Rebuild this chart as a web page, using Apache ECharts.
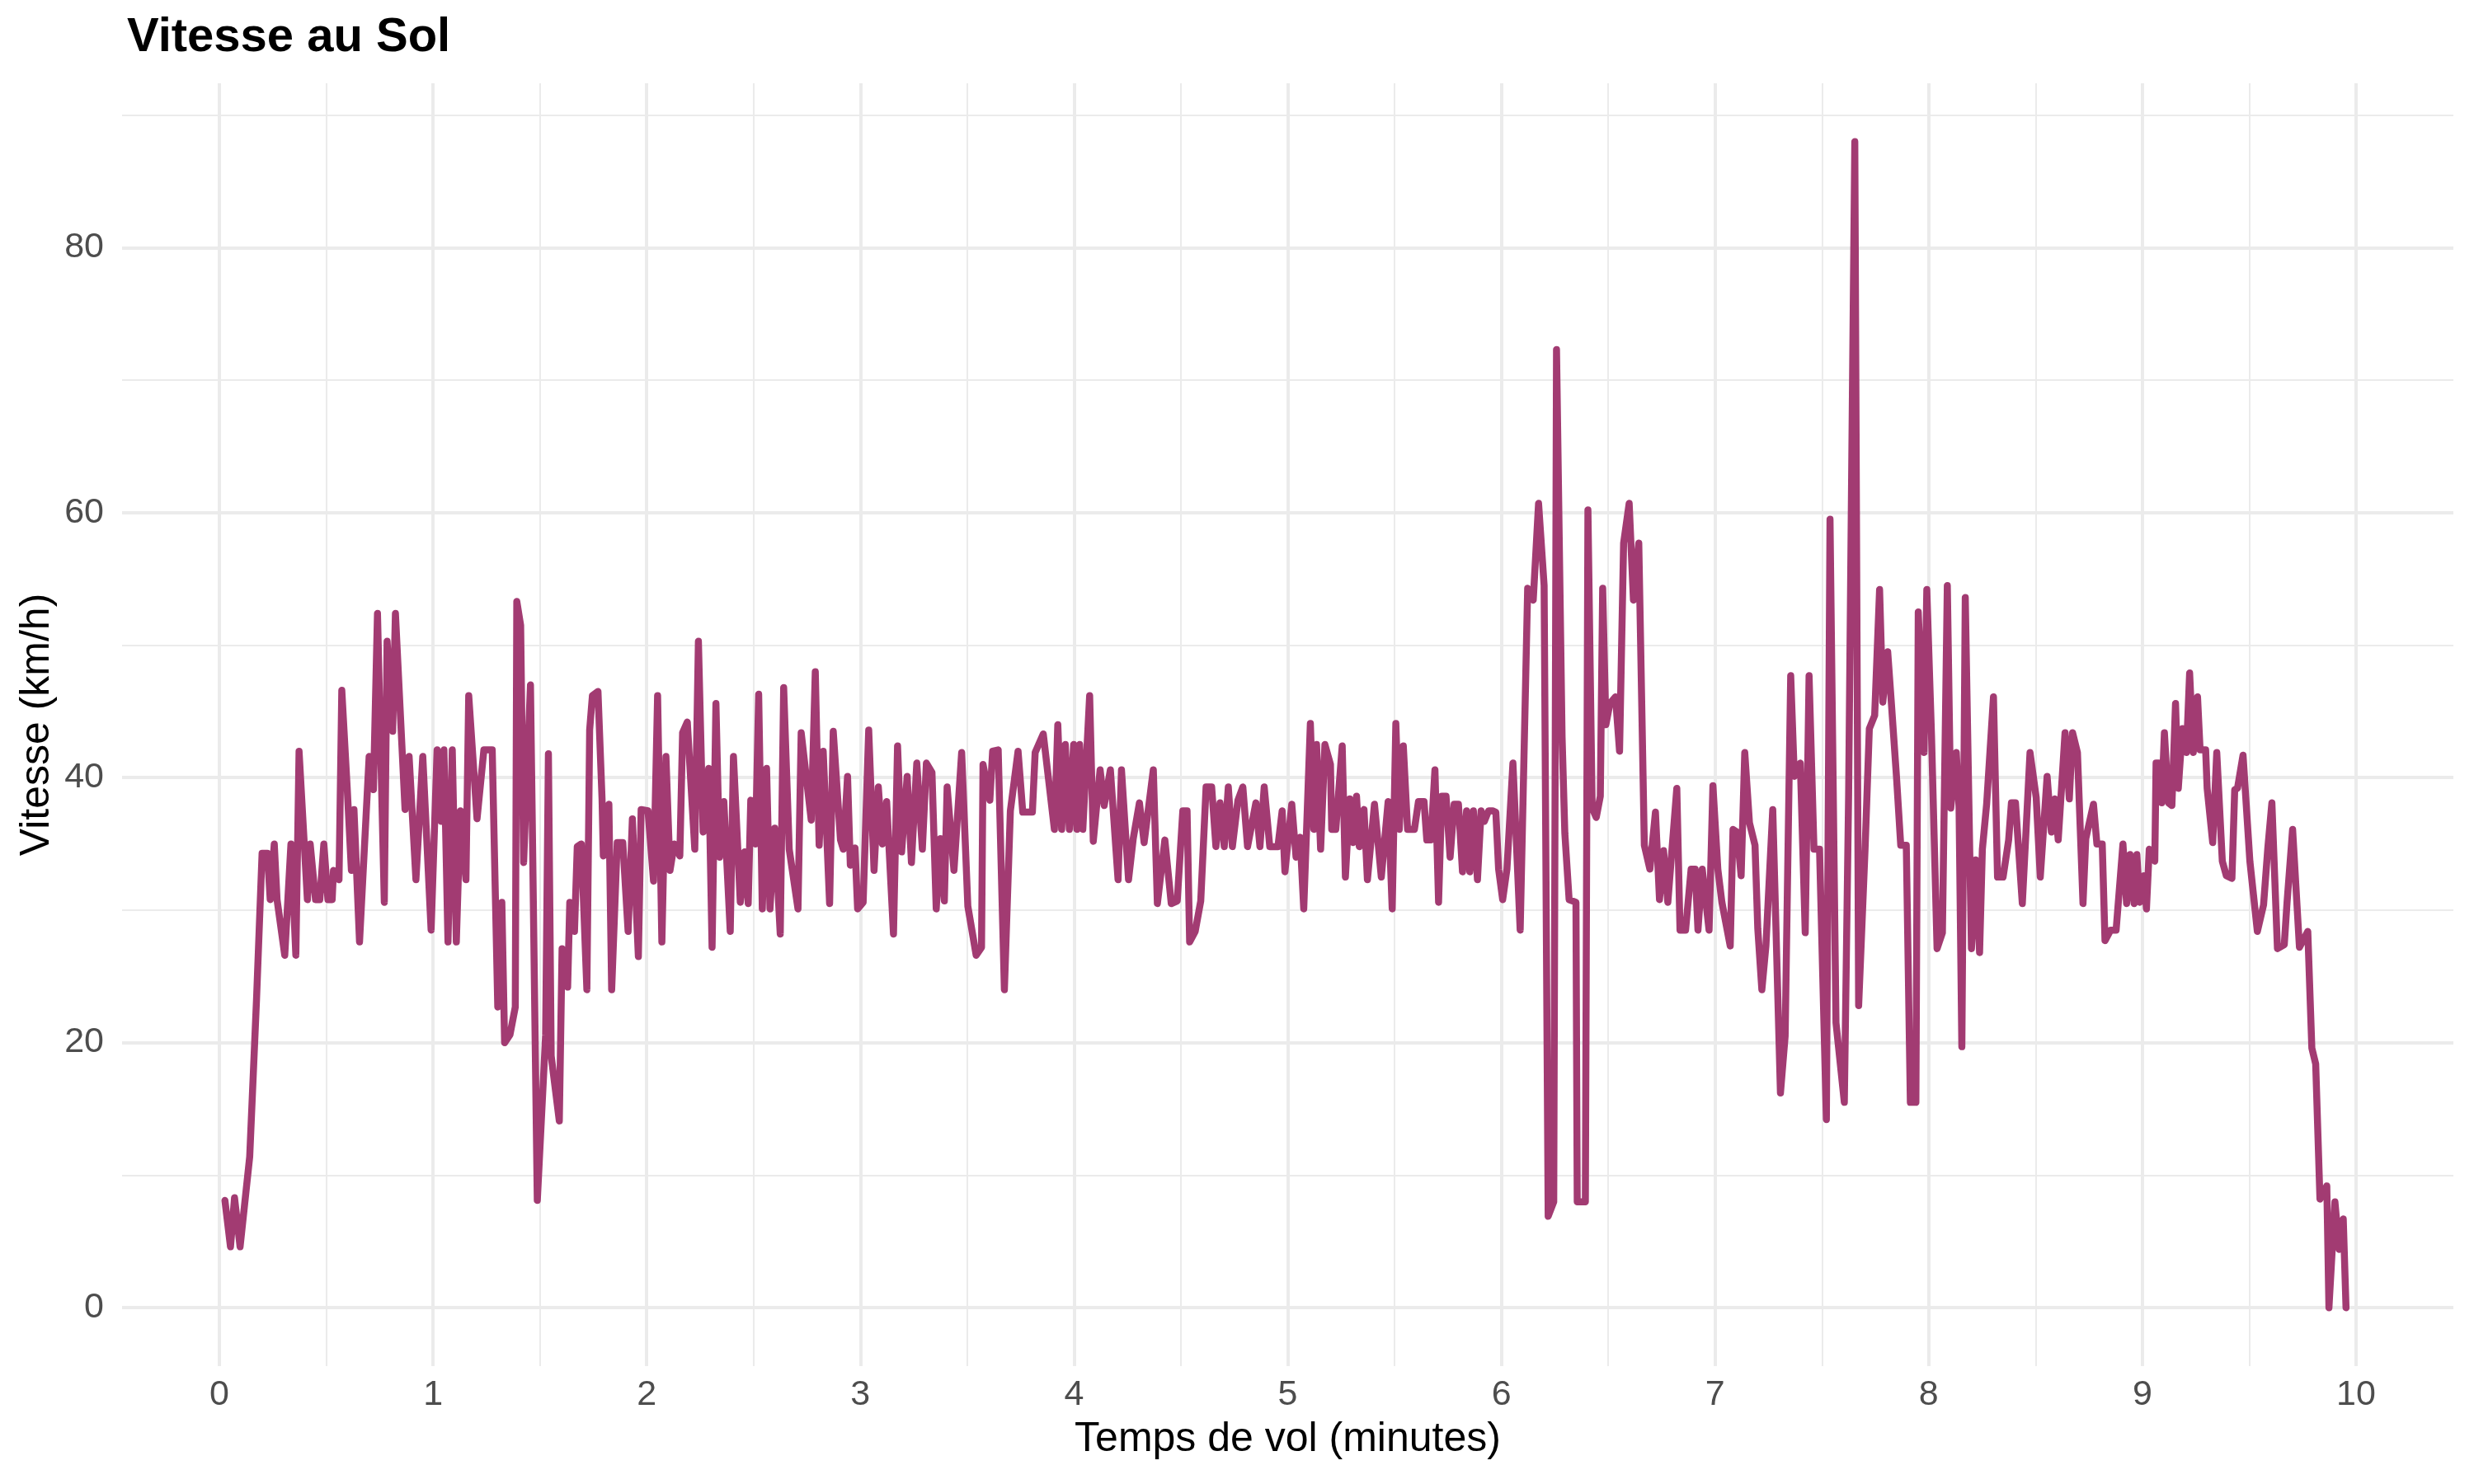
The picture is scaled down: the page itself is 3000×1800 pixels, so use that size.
<!DOCTYPE html>
<html>
<head>
<meta charset="utf-8">
<script src="https://cdn.jsdelivr.net/npm/echarts@6/dist/echarts.min.js"></script>
<style>html,body{margin:0;padding:0;background:#fff}#chart{width:3000px;height:1800px}</style>
</head>
<body>
<div id="chart"></div>
<script>
const titleText = 'Vitesse au Sol';
const xAxisTitle = 'Temps de vol (minutes)';
const yAxisTitle = 'Vitesse (km/h)';
const xTicks = [0,1,2,3,4,5,6,7,8,9,10];
const yTicks = [0,20,40,60,80];
const yMinorTicks = [10,30,50,70,90];

const times = [
0.026,0.052,0.071,0.097,0.142,0.174,0.2,0.225,0.238,0.257,0.27,0.306,0.335,0.358,0.373,0.412,0.425,0.45,0.47,0.489,0.508,0.528,0.534,0.56,0.573,0.598,0.618,0.63,0.656,0.701,0.721,0.74,0.772,0.785,0.811,0.824,0.869,0.888,0.92,0.952,0.991,
1.019,1.038,1.051,1.07,1.09,1.109,1.128,1.154,1.167,1.206,1.238,1.277,1.303,1.322,1.335,1.36,1.385,1.392,1.41,1.424,1.456,1.488,1.527,1.54,1.553,1.591,1.604,1.63,1.64,1.662,1.675,1.694,1.72,1.733,1.746,1.772,1.791,1.797,1.823,1.836,1.862,1.888,1.913,1.933,
1.961,1.974,2.006,2.032,2.051,2.071,2.09,2.109,2.129,2.155,2.168,2.19,2.225,2.242,2.264,2.29,2.306,2.324,2.341,2.361,2.391,2.406,2.438,2.458,2.475,2.487,2.509,2.524,2.541,2.561,2.577,2.599,2.625,2.641,2.667,2.708,2.723,2.77,2.789,2.807,2.826,2.856,2.873,2.907,2.92,2.94,2.953,
2.975,2.987,3.013,3.039,3.064,3.084,3.103,3.123,3.155,3.174,3.193,3.219,3.239,3.264,3.29,3.309,3.335,3.355,3.374,3.393,3.406,3.438,3.474,3.503,3.542,3.567,3.574,3.606,3.619,3.645,3.674,3.702,3.738,3.76,3.805,3.818,3.856,3.908,3.924,3.942,3.959,3.978,3.998,
4.013,4.026,4.041,4.073,4.09,4.122,4.141,4.17,4.206,4.222,4.255,4.277,4.306,4.328,4.371,4.39,4.425,4.455,4.483,4.509,4.529,4.541,4.567,4.593,4.618,4.644,4.664,4.683,4.703,4.722,4.741,4.767,4.79,4.812,4.851,4.87,4.89,4.916,4.954,
4.974,4.987,5.019,5.039,5.058,5.075,5.106,5.122,5.135,5.154,5.174,5.2,5.206,5.225,5.255,5.27,5.29,5.306,5.322,5.335,5.357,5.373,5.406,5.438,5.47,5.489,5.506,5.522,5.541,5.561,5.593,5.612,5.638,5.651,5.67,5.689,5.706,5.721,5.741,5.76,5.779,5.799,5.818,5.837,5.852,5.869,5.888,5.905,5.92,5.94,5.959,
5.974,5.987,6.006,6.026,6.054,6.088,6.123,6.149,6.174,6.2,6.219,6.245,6.258,6.284,6.297,6.317,6.349,6.355,6.393,6.405,6.425,6.444,6.463,6.474,6.489,6.508,6.534,6.553,6.572,6.598,6.618,6.643,6.669,6.695,6.721,6.74,6.759,6.779,6.798,6.821,6.836,6.862,6.888,6.907,6.92,6.94,6.972,
6.99,7.013,7.032,7.071,7.084,7.103,7.122,7.139,7.161,7.187,7.2,7.219,7.238,7.27,7.306,7.328,7.354,7.371,7.399,7.422,7.44,7.463,7.489,7.521,7.538,7.566,7.605,7.625,7.654,7.672,7.702,7.722,7.747,7.77,7.785,7.808,7.824,7.849,7.869,7.895,7.914,7.94,
7.951,7.978,7.991,8.013,8.039,8.064,8.087,8.103,8.129,8.142,8.155,8.171,8.2,8.219,8.238,8.251,8.271,8.303,8.322,8.348,8.374,8.387,8.406,8.438,8.474,8.503,8.522,8.554,8.574,8.59,8.606,8.638,8.658,8.673,8.696,8.722,8.735,8.771,8.787,8.812,8.825,8.851,8.877,8.909,8.926,8.942,8.961,
8.974,8.987,9.006,9.019,9.032,9.058,9.064,9.077,9.09,9.103,9.122,9.138,9.155,9.168,9.187,9.206,9.221,9.238,9.258,9.27,9.296,9.303,9.329,9.348,9.374,9.393,9.419,9.432,9.445,9.471,9.503,9.538,9.567,9.587,9.606,9.632,9.664,9.677,9.703,9.735,9.774,9.793,9.811,9.831,9.863,9.873,9.901,9.921,9.94,9.953
];

const speeds = [
8.1,4.6,8.3,4.6,11.4,23.3,34.3,34.3,30.8,35,30.8,26.6,35,26.6,42,30.8,35,30.8,30.8,35,30.8,30.8,33,32.3,46.6,39.3,33,37.6,27.6,41.6,39.1,52.4,30.6,50.3,43.5,52.4,37.6,41.6,32.3,41.6,28.5,
42.1,36.7,42.1,27.6,42.1,27.6,37.5,32.3,46.2,36.9,42.1,42.1,22.7,30.6,20,20.6,22.7,53.3,51.5,33.6,47,8.1,20.6,41.8,19,14.1,27.1,24.2,30.6,28.4,34.8,35,24,43.6,46.2,46.5,38.4,34.1,38,24,35.1,35.1,28.4,36.9,
26.5,37.6,37.5,32.2,46.2,27.6,41.6,33,35,34.1,43.4,44.2,34.6,50.3,35.9,40.7,27.2,45.6,34,38.2,28.4,41.6,30.6,34.4,30.5,38.3,35,46.3,30.1,40.7,30.1,36.2,28.2,46.8,34.6,30.1,43.4,36.8,48,34.9,42,30.5,43.5,35.3,34.6,40.1,33.4,
34.7,30.1,30.6,43.6,33,39.3,35,38.2,28.2,42.4,34.4,40.1,33.6,41.1,34.6,41.1,40.4,30.1,35.4,30.7,39.3,33,41.9,30.3,26.6,27.2,41,38.3,42,42.1,24,37.5,42,37.4,37.4,41.9,43.3,36.1,44,36.1,42.5,36.1,42.5,
36.1,42.5,36.1,46.2,35.2,40.6,37.9,40.6,32.3,40.6,32.3,35.4,38.1,35.1,40.6,30.5,35.3,30.5,30.7,37.5,37.5,27.6,28.4,30.7,39.3,39.3,34.8,38.1,34.8,39.3,34.8,38.3,39.3,34.8,38.1,34.8,39.3,34.8,34.8,
37.5,32.9,38,34,35.5,30.1,44.1,36.1,42.5,34.6,42.5,41,36.1,36.1,42.4,32.5,38.4,35.1,38.6,34.8,37.6,32.3,38,32.5,38.2,30.1,44.1,36.1,42.4,36.1,36.1,38.2,38.2,35.3,35.3,40.6,30.6,38.6,38.6,34,38,38,32.9,37.5,32.9,37.5,32.3,37.5,36.7,37.5,37.5,
37.4,33.1,30.8,33.1,41.1,28.5,54.3,53.4,60.7,54.5,6.9,8,72.3,43.1,35.8,30.8,30.6,8,8,60.2,37.7,37,38.6,54.3,44,45.6,46.1,42,57.7,60.7,53.4,57.7,34.9,33.1,37.4,30.8,34.5,30.6,34.5,39.2,28.5,28.5,33.1,33.1,28.5,33.1,28.5,
39.4,33.1,30.6,27.3,36.1,35.9,32.6,41.9,36.6,34.9,28.6,24,27.3,37.6,16.2,20.5,47.7,40.1,41.1,28.3,47.7,34.6,34.6,14.2,59.5,21.5,15.5,38.6,88,22.8,34.6,43.7,44.7,54.2,45.7,49.5,45.9,40.1,34.9,34.9,15.5,15.5,
52.5,41.9,54.2,43.2,27.1,28.3,54.5,37.7,41.9,37.7,19.7,53.6,27.1,33.8,26.8,34.6,38,46.1,32.5,32.5,35.3,38.1,38.1,30.5,41.9,38.5,32.5,40.1,35.9,38.4,35.3,43.4,38.4,43.4,41.9,30.5,35.4,38,35,35,27.7,28.5,28.5,35,30.5,34.2,30.5,
34.2,30.6,32.6,30.1,34.6,33.7,41.1,41.1,38.1,43.4,38.1,37.9,45.6,39.2,43.7,41.9,47.9,41.9,46.1,42.1,42.1,39.2,35.1,41.9,33.7,32.6,32.4,39.1,39.2,41.7,33.7,28.4,30.4,34.7,38.1,27.1,27.4,30.6,36.1,27.2,28.4,19.6,18.4,8.2,9.2,0,8,4.4,6.7,0
];

const FONT = "'Liberation Sans', Arial, Helvetica, sans-serif";
const GRID_COLOR = '#EBEBEB';
const LINE_COLOR = '#A23B72';

// panel geometry (pixels)
const PANEL_TOP = 101, PANEL_BOTTOM_PX = 1657, PANEL_LEFT = 148, PANEL_RIGHT_PX = 2975;
const Y0_PX = 1586, Y_PER_UNIT = 16.07;
const yPx = v => Y0_PX - v * Y_PER_UNIT;

const chart = echarts.init(document.getElementById('chart'), null, {renderer: 'canvas'});
const seriesData = times.map((t, i) => [t, speeds[i]]);

chart.setOption({
  animation: false,
  backgroundColor: '#ffffff',
  title: {
    text: titleText,
    left: 149,
    top: 12,
    textStyle: {fontFamily: FONT, fontSize: 58, fontWeight: 'bold', color: '#000000'}
  },
  grid: [
    // data grid: x 0..10 spans 266..2857, vertical gridlines span full panel height
    {left: 266, right: 143, top: PANEL_TOP, bottom: 1800 - PANEL_BOTTOM_PX, containLabel: false},
    // major horizontal gridlines 0..80 across full panel width
    {left: PANEL_LEFT, right: 3000 - PANEL_RIGHT_PX, top: yPx(yTicks[yTicks.length - 1]), bottom: 1800 - yPx(yTicks[0]), containLabel: false},
    // minor horizontal gridlines 10..90
    {left: PANEL_LEFT, right: 3000 - PANEL_RIGHT_PX, top: yPx(yMinorTicks[yMinorTicks.length - 1]), bottom: 1800 - yPx(yMinorTicks[0]), containLabel: false}
  ],
  xAxis: [
    {
      gridIndex: 0, type: 'value', min: xTicks[0], max: xTicks[xTicks.length - 1], interval: 1,
      name: xAxisTitle, nameLocation: 'middle', nameGap: 64,
      nameTextStyle: {fontFamily: FONT, fontSize: 50, color: '#000000'},
      axisLine: {show: false}, axisTick: {show: false},
      axisLabel: {fontFamily: FONT, fontSize: 43, color: '#4D4D4D', margin: 14},
      splitLine: {show: true, lineStyle: {color: GRID_COLOR, width: 4}},
      minorTick: {show: false, splitNumber: 2},
      minorSplitLine: {show: true, lineStyle: {color: GRID_COLOR, width: 2}}
    },
    {gridIndex: 1, type: 'value', min: 0, max: 1, show: false},
    {gridIndex: 2, type: 'value', min: 0, max: 1, show: false}
  ],
  yAxis: [
    {
      gridIndex: 0, type: 'value', min: -4.4, max: 92.4,
      name: yAxisTitle, nameLocation: 'middle', nameGap: 196, nameRotate: 90,
      nameTextStyle: {fontFamily: FONT, fontSize: 50, color: '#000000'},
      axisLine: {show: false}, axisTick: {show: false},
      axisLabel: {show: false}, splitLine: {show: false}
    },
    {
      gridIndex: 1, type: 'value', min: yTicks[0], max: yTicks[yTicks.length - 1], interval: 20,
      axisLine: {show: false}, axisTick: {show: false},
      axisLabel: {fontFamily: FONT, fontSize: 43, color: '#4D4D4D', margin: 22},
      splitLine: {show: true, lineStyle: {color: GRID_COLOR, width: 4}}
    },
    {
      gridIndex: 2, type: 'value', min: yMinorTicks[0], max: yMinorTicks[yMinorTicks.length - 1], interval: 20,
      axisLine: {show: false}, axisTick: {show: false}, axisLabel: {show: false},
      splitLine: {show: true, lineStyle: {color: GRID_COLOR, width: 2}}
    }
  ],
  series: [{
    type: 'line',
    xAxisIndex: 0, yAxisIndex: 0,
    data: seriesData,
    showSymbol: false,
    symbol: 'none',
    z: 5,
    lineStyle: {color: LINE_COLOR, width: 8.5, cap: 'round', join: 'round'}
  }]
});
</script>
</body>
</html>
